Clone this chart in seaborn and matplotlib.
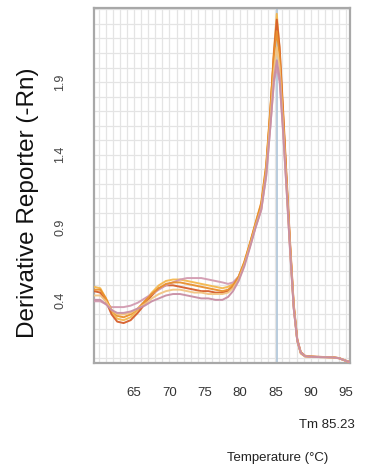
import numpy as np
import pandas as pd
import matplotlib
matplotlib.use("Agg")
import matplotlib.pyplot as plt
import seaborn as sns

temperature = [59.3, 60.2, 61.0, 61.8, 62.6, 63.5, 64.5, 65.5, 66.5, 67.5, 68.5, 69.5,
               70.5, 71.5, 72.5, 73.5, 74.5, 75.5, 76.5, 77.5, 78.3, 79.0, 79.8, 80.6,
               81.4, 82.2, 83.0, 83.7, 84.3, 84.8, 85.2, 85.6, 86.1, 86.6, 87.1, 87.6,
               88.1, 88.6, 89.2, 90.0, 91.0, 92.0, 93.0, 94.0, 95.0, 95.6]

s_yellow = [0.49, 0.48, 0.41, 0.32, 0.27, 0.26, 0.28, 0.33, 0.39, 0.45, 0.50, 0.53,
            0.54, 0.54, 0.53, 0.52, 0.51, 0.50, 0.49, 0.48, 0.49, 0.51, 0.56, 0.66,
            0.79, 0.93, 1.06, 1.32, 1.72, 2.12, 2.37, 2.12, 1.66, 1.20, 0.75, 0.35,
            0.12, 0.03, 0.01, 0.008, 0.006, 0.005, 0.004, -0.002, -0.02, -0.03]
s_red = [0.46, 0.45, 0.39, 0.30, 0.25, 0.24, 0.26, 0.31, 0.37, 0.43, 0.48, 0.50,
         0.50, 0.49, 0.48, 0.47, 0.46, 0.46, 0.45, 0.45, 0.46, 0.49, 0.55, 0.65,
         0.78, 0.92, 1.05, 1.30, 1.70, 2.10, 2.33, 2.14, 1.70, 1.23, 0.78, 0.37,
         0.13, 0.04, 0.015, 0.01, 0.008, 0.006, 0.005, -0.001, -0.02, -0.03]
s_pink = [0.39, 0.39, 0.37, 0.35, 0.35, 0.35, 0.36, 0.38, 0.41, 0.44, 0.47, 0.50,
          0.52, 0.54, 0.55, 0.55, 0.55, 0.54, 0.53, 0.52, 0.51, 0.52, 0.56, 0.65,
          0.77, 0.90, 1.02, 1.25, 1.60, 1.90, 2.00, 1.90, 1.55, 1.15, 0.72, 0.34,
          0.12, 0.035, 0.012, 0.008, 0.006, 0.005, 0.004, -0.002, -0.02, -0.03]
s_orange = [0.47, 0.47, 0.41, 0.33, 0.29, 0.28, 0.30, 0.34, 0.39, 0.44, 0.48, 0.51,
            0.52, 0.52, 0.51, 0.50, 0.49, 0.48, 0.47, 0.46, 0.47, 0.50, 0.56, 0.66,
            0.79, 0.93, 1.07, 1.33, 1.72, 2.08, 2.25, 2.08, 1.66, 1.20, 0.76, 0.36,
            0.12, 0.035, 0.012, 0.009, 0.007, 0.006, 0.005, -0.001, -0.02, -0.03]
s_tan = [0.43, 0.43, 0.39, 0.33, 0.30, 0.30, 0.31, 0.34, 0.37, 0.41, 0.44, 0.46,
         0.47, 0.47, 0.46, 0.45, 0.45, 0.44, 0.44, 0.44, 0.45, 0.48, 0.54, 0.64,
         0.77, 0.91, 1.03, 1.28, 1.65, 1.98, 2.14, 2.00, 1.60, 1.17, 0.74, 0.35,
         0.12, 0.035, 0.012, 0.008, 0.006, 0.005, 0.004, -0.002, -0.02, -0.03]
s_mauve = [0.40, 0.40, 0.37, 0.33, 0.31, 0.31, 0.32, 0.34, 0.36, 0.39, 0.41, 0.43,
           0.44, 0.44, 0.43, 0.42, 0.41, 0.41, 0.40, 0.40, 0.42, 0.46, 0.53, 0.63,
           0.76, 0.90, 1.02, 1.26, 1.60, 1.92, 2.05, 1.93, 1.56, 1.15, 0.73, 0.34,
           0.12, 0.035, 0.012, 0.008, 0.006, 0.005, 0.004, -0.002, -0.02, -0.03]

series = {"A": s_yellow, "B": s_red, "C": s_pink, "D": s_orange, "E": s_tan, "F": s_mauve}
colors = ["#f4b84e", "#d65e2a", "#d29ab0", "#e98f2c", "#f2c482", "#c88ea4"]

x_ticks = [65, 70, 75, 80, 85, 90, 95]
y_ticks = [0.4, 0.9, 1.4, 1.9]
tm_value = 85.23

rows = []
for name, vals in series.items():
    for t, v in zip(temperature, vals):
        rows.append({"Temperature": t, "Value": v, "Sample": name})
df = pd.DataFrame(rows)

sns.set_style("white")
plt.rcParams["font.family"] = ["Liberation Sans", "DejaVu Sans"]

fig = plt.figure(figsize=(3.74, 4.72), dpi=100)
ax = fig.add_axes([94 / 374, 1 - 363 / 472, 256 / 374, 355 / 472])

xlim = (59.31, 95.57)
ylim = (-0.035, 2.41)
ax.set_xlim(*xlim)
ax.set_ylim(*ylim)

# grid
for gx in range(60, 96):
    ax.axvline(gx, color="#e4e4e4", lw=0.9, zorder=0)
for k in range(0, 25):
    ax.axhline(k * 0.1, color="#e4e4e4", lw=0.9, zorder=0)

ax.axvline(tm_value, color="#adc4d8", lw=1.2, zorder=1)

sns.lineplot(data=df, x="Temperature", y="Value", hue="Sample", palette=colors,
             lw=1.4, legend=False, ax=ax, zorder=3, alpha=0.95)

ax.set_xticks(x_ticks)
ax.set_xticklabels([str(v) for v in x_ticks], fontsize=9.5, color="#333333")
ax.set_yticks(y_ticks)
ax.set_yticklabels([f"{v:.1f}" for v in y_ticks], fontsize=9, color="#444444",
                   rotation=90, va="center")
ax.tick_params(axis="x", length=0, pad=17)
ax.tick_params(axis="y", length=0, pad=20)
ax.set_xlabel("")
ax.set_ylabel("")

for sp in ax.spines.values():
    sp.set_color("#a8a8a8")
    sp.set_linewidth(1.6)

fig.text(28 / 374, 1 - 203 / 472, "Derivative Reporter (-Rn)", rotation=90,
         ha="center", va="center", fontsize=17.5, color="#111111")
fig.text(355 / 374, 1 - 425 / 472, "Tm 85.23", ha="right", va="center",
         fontsize=9.5, color="#222222")
fig.text(278 / 374, 1 - 458 / 472, "Temperature (°C)", ha="center", va="center",
         fontsize=9.5, color="#222222")

fig.savefig("out.png", dpi=100)
